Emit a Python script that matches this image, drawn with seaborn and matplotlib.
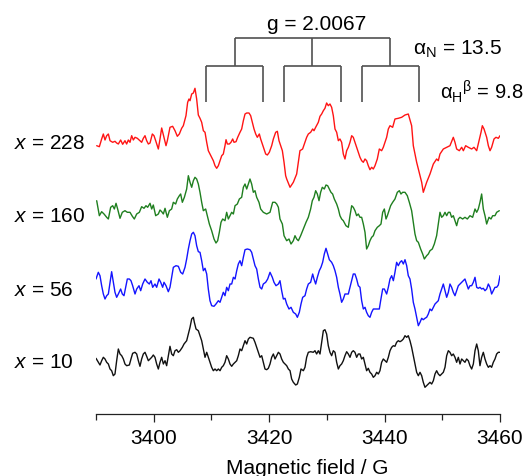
import matplotlib
matplotlib.use("Agg")
import matplotlib.pyplot as plt
from matplotlib.ticker import FixedLocator
import pandas as pd
import seaborn as sns

# First-derivative EPR spectra (arbitrary intensity units) for four samples
field_228 = [3390.12, 3390.58, 3390.98, 3391.27, 3391.56, 3391.85, 3392.14, 3392.43, 3392.89, 3393.29,
             3393.58, 3393.87, 3394.27, 3394.62, 3395.02, 3395.31, 3395.60, 3395.89, 3396.18, 3396.47,
             3396.76, 3397.16, 3397.62, 3397.91, 3398.20, 3398.49, 3398.78, 3399.07, 3399.36, 3399.76,
             3400.05, 3400.34, 3400.80, 3401.09, 3401.38, 3401.67, 3402.13, 3402.36, 3402.82, 3403.28,
             3403.69, 3404.09, 3404.44, 3404.84, 3405.13, 3405.59, 3405.88, 3406.11, 3406.29, 3406.58,
             3406.87, 3407.15, 3407.44, 3407.73, 3408.02, 3408.31, 3408.60, 3408.89, 3409.18, 3409.46,
             3409.75, 3410.04, 3410.33, 3410.62, 3410.91, 3411.20, 3411.49, 3411.78, 3412.06, 3412.35,
             3412.53, 3412.76, 3413.10, 3413.39, 3413.68, 3413.91, 3414.26, 3414.55, 3414.95, 3415.24,
             3415.53, 3415.82, 3416.11, 3416.51, 3416.80, 3417.09, 3417.38, 3417.67, 3417.95, 3418.30,
             3418.53, 3418.82, 3419.11, 3419.40, 3419.69, 3420.03, 3420.44, 3420.73, 3421.13, 3421.42,
             3421.71, 3422.00, 3422.29, 3422.58, 3422.86, 3423.04, 3423.62, 3424.19, 3424.77, 3425.05,
             3425.34, 3425.80, 3426.21, 3426.50, 3426.79, 3427.19, 3427.54, 3427.77, 3428.06, 3428.52,
             3428.81, 3429.10, 3429.39, 3429.67, 3429.96, 3430.25, 3430.54, 3430.83, 3431.12, 3431.41,
             3431.70, 3431.99, 3432.27, 3432.56, 3432.85, 3433.14, 3433.43, 3433.72, 3434.01, 3434.30,
             3434.58, 3434.87, 3435.16, 3435.45, 3435.74, 3436.03, 3436.32, 3436.61, 3436.89, 3437.18,
             3437.47, 3437.76, 3438.05, 3438.34, 3438.74, 3439.09, 3439.49, 3439.78, 3440.36, 3440.65,
             3440.94, 3441.40, 3441.80, 3442.38, 3442.96, 3443.54, 3444.11, 3444.69, 3444.98, 3445.56,
             3445.85, 3446.43, 3446.71, 3447.29, 3447.87, 3448.45, 3449.02, 3449.31, 3449.60, 3450.18,
             3450.76, 3451.33, 3451.91, 3452.20, 3452.49, 3452.95, 3453.36, 3453.65, 3454.05, 3454.51,
             3455.09, 3455.49, 3455.96, 3456.36, 3456.71, 3456.94, 3457.23, 3457.69, 3457.98, 3458.27,
             3458.55, 3458.96, 3459.30, 3459.71, 3460.00]
signal_228 = [0.3, -0.7, 7, 12, 6, 10.3, 12, 5.3, 3.7, 4.7,
              3, 2, 6, 1.7, 5.3, 2, 6, 3.7, 10.3, 6,
              8.7, 7.7, 5.3, 3.7, 7.7, 10.3, 5.3, 2, 3, 12,
              10.3, 5.3, -3, 7, 18, 11, 0.3, 5.3, 18.7, 19.7,
              15.3, 9.7, 12, 17.7, 20.3, 30.3, 43.7, 47, 45.3, 52,
              53, 57.7, 47, 31, 27.7, 23.7, 15.3, 13.7, 3.7, -4.7,
              -8, -11.3, -14.7, -19.7, -22.3, -19.7, -14.7, -9.7, -8, 0.3,
              6.3, 2, 2, 3.7, 7, 3.7, 4.3, 8.7, 13.7, 17,
              25.3, 32, 33, 33, 30.3, 23.7, 17, 12, 8.7, 12,
              7, 2, -3, -8, -9, -6.3, 0.3, 7, 13.7, 14.7,
              5.3, 0.3, -4.7, -16.3, -29.7, -33, -41.3, -36.3, -28, -16.3,
              -4.7, -3, 3.7, 8.7, 12, 13.7, 17, 15.3, 18.7, 23.7,
              29.7, 32, 35.3, 37.7, 43, 40.3, 42, 38.7, 30.3, 17,
              13.7, 5.3, 7, 3.7, -8, -13, -4.7, -1.3, 3.7, 10.3,
              8.7, 3.7, -1.3, -6.3, -11.3, -14.7, -16.3, -13, -14.7, -19.7,
              -23.7, -21.3, -23, -19.7, -13, -3, -4.7, -1.3, 8.7, 17,
              20.3, 18.7, 27, 27.7, 28.7, 31, 32, 20.3, 0.3, -16.3,
              -23, -36.3, -46.3, -36.3, -28, -18, -13, -14.7, -8, -3,
              -1.3, 0.3, 8.7, 3.7, -3, -4.7, -1.3, -4.7, 0.3, -1.3,
              -3, -1.3, -4.7, 5.3, 13.7, 20.3, 17, 8.7, 0.3, -4.7,
              -1.3, 7, 8.7, 7.7, 10.3]

field_160 = [3390.12, 3390.58, 3390.98, 3391.39, 3391.85, 3392.14, 3392.54, 3392.89, 3393.18, 3393.47,
             3393.75, 3394.16, 3394.56, 3395.02, 3395.43, 3395.89, 3396.30, 3396.64, 3397.05, 3397.51,
             3397.91, 3398.32, 3398.66, 3398.95, 3399.36, 3399.65, 3399.93, 3400.34, 3400.80, 3401.09,
             3401.38, 3401.67, 3401.96, 3402.36, 3402.71, 3403.11, 3403.40, 3403.80, 3404.09, 3404.44,
             3404.67, 3404.96, 3405.31, 3405.71, 3406.00, 3406.29, 3406.58, 3406.87, 3407.15, 3407.44,
             3407.73, 3408.02, 3408.31, 3408.60, 3409.00, 3409.29, 3409.64, 3410.04, 3410.45, 3410.79,
             3411.08, 3411.37, 3411.66, 3411.95, 3412.35, 3412.64, 3412.93, 3413.22, 3413.51, 3413.80,
             3414.09, 3414.49, 3414.84, 3415.24, 3415.53, 3415.82, 3416.11, 3416.40, 3416.68, 3416.97,
             3417.26, 3417.55, 3417.84, 3418.24, 3418.53, 3418.99, 3419.57, 3420.15, 3420.61, 3421.02,
             3421.31, 3421.60, 3421.88, 3422.29, 3422.58, 3423.04, 3423.44, 3423.79, 3424.19, 3424.48,
             3424.77, 3425.06, 3425.46, 3425.93, 3426.39, 3426.79, 3427.19, 3427.48, 3427.77, 3428.06,
             3428.35, 3428.64, 3428.92, 3429.21, 3429.56, 3429.85, 3430.14, 3430.43, 3430.71, 3431.00,
             3431.29, 3431.70, 3431.99, 3432.27, 3432.56, 3432.85, 3433.31, 3433.72, 3434.01, 3434.30,
             3434.58, 3434.87, 3435.16, 3435.45, 3435.74, 3436.03, 3436.32, 3436.61, 3436.89, 3437.18,
             3437.47, 3437.76, 3438.05, 3438.34, 3438.74, 3439.09, 3439.38, 3439.67, 3439.96, 3440.25,
             3440.48, 3440.77, 3441.05, 3441.40, 3441.80, 3442.21, 3442.56, 3442.84, 3443.13, 3443.54,
             3443.94, 3444.29, 3444.69, 3444.98, 3445.27, 3445.56, 3445.85, 3446.25, 3446.60, 3446.89,
             3447.29, 3447.58, 3447.87, 3448.27, 3448.62, 3449.02, 3449.31, 3449.60, 3449.89, 3450.18,
             3450.47, 3450.76, 3451.05, 3451.33, 3451.62, 3451.91, 3452.20, 3452.49, 3452.78, 3453.07,
             3453.53, 3453.93, 3454.34, 3454.80, 3455.26, 3455.67, 3455.96, 3456.24, 3456.53, 3456.82,
             3457.11, 3457.40, 3457.69, 3458.09, 3458.44, 3458.73, 3459.13, 3459.42, 3459.88]
signal_160 = [10.3, -4.7, -0.7, -3, -6.3, -8, 3.7, 5.3, 2, 7.7,
              2, -7.3, -1.3, 0.3, -1.3, -1.3, -5.3, -8, -3, -1.3,
              4.3, 2.7, 5.3, 3.7, 7.7, 2, 6, -4.7, -3, 1,
              -0.7, -3, 2.7, -6.3, 0.3, 2, 8.7, 7, 12, 15.3,
              17, 8.7, 13.7, 22, 35.3, 28.7, 23.7, 30.3, 33.7, 32,
              27, 18.7, 8.7, 0.3, 2, -4.7, -13, -19.7, -28, -32,
              -29.7, -21.3, -11.3, -8, -9.7, -1.3, -8, -4.7, -1.3, -3,
              5.3, 7, 12, 13.7, 23.7, 27, 22, 27, 32, 27,
              18.7, 20.3, 13.7, 8.7, 2, -1.3, -3, -1.3, 8.7, 8.7,
              7, 3.7, -8, -13, -24.7, -29.7, -28, -33, -29.7, -24.7,
              -28, -29.7, -24.7, -18, -11.3, -6.3, 2, 10.3, 13.7, 20.3,
              17, 10.3, 18.7, 23.7, 22, 26, 25.3, 22, 18.7, 17,
              12, 7, 2, -4.7, -8, -9.7, -14.7, -16.3, -4.7, 5.3,
              3.7, 0.3, -4.7, -3, -6.3, -6.3, -13, -21.3, -38, -34.7,
              -29.7, -26.3, -24.7, -19.7, -16.3, -14.7, -13, -1.3, 2, -8,
              -4.7, 0.3, 5.3, 8.7, 12, 18.7, 20.3, 17, 18.7, 18.7,
              15.3, 8.7, 0.3, -11.3, -23, -29.7, -31.3, -38, -43, -48,
              -44.7, -43, -39.7, -38, -33, -24.7, -13, -1.3, -6.3, -4.7,
              -1.3, -4.7, -1.3, -1.3, -6.3, -4.7, -9.7, -14.7, -8, -6.3,
              -8, -6.3, -8, -4.7, -6.3, 2, -1.3, 2, 8.7, 17,
              2, -4.7, -13, -6.3, -8, -4.7, -4.7, -1.3, 0.3]

field_56 = [3390.00, 3390.40, 3390.69, 3390.98, 3391.27, 3391.56, 3391.85, 3392.14, 3392.43, 3392.71,
            3393.00, 3393.29, 3393.58, 3393.87, 3394.27, 3394.56, 3394.85, 3395.20, 3395.43, 3395.78,
            3396.06, 3396.35, 3396.76, 3397.05, 3397.45, 3397.74, 3398.09, 3398.49, 3398.89, 3399.24,
            3399.53, 3399.82, 3400.22, 3400.51, 3400.92, 3401.21, 3401.55, 3401.78, 3402.13, 3402.53,
            3402.82, 3403.11, 3403.40, 3403.86, 3404.27, 3404.67, 3405.02, 3405.42, 3405.71, 3406.00,
            3406.29, 3406.58, 3406.87, 3407.15, 3407.44, 3407.73, 3408.02, 3408.31, 3408.60, 3408.89,
            3409.18, 3409.46, 3409.75, 3410.04, 3410.45, 3410.79, 3411.20, 3411.49, 3411.78, 3412.06,
            3412.35, 3412.64, 3412.93, 3413.22, 3413.51, 3413.80, 3414.09, 3414.38, 3414.66, 3414.95,
            3415.24, 3415.53, 3415.82, 3416.22, 3416.68, 3416.97, 3417.26, 3417.55, 3417.84, 3418.13,
            3418.42, 3418.71, 3418.99, 3419.40, 3419.75, 3420.15, 3420.55, 3420.84, 3421.19, 3421.60,
            3421.88, 3422.17, 3422.46, 3422.75, 3423.04, 3423.44, 3423.79, 3424.19, 3424.60, 3424.89,
            3425.23, 3425.52, 3425.81, 3426.21, 3426.50, 3426.79, 3427.19, 3427.54, 3427.77, 3428.06,
            3428.35, 3428.69, 3428.98, 3429.27, 3429.56, 3429.85, 3430.14, 3430.43, 3430.83, 3431.12,
            3431.41, 3431.70, 3431.99, 3432.27, 3432.56, 3432.85, 3433.14, 3433.43, 3433.72, 3434.01,
            3434.30, 3434.58, 3434.87, 3435.16, 3435.45, 3435.74, 3436.03, 3436.32, 3436.61, 3436.89,
            3437.18, 3437.47, 3437.76, 3438.05, 3438.34, 3438.74, 3439.09, 3439.32, 3439.67, 3439.96,
            3440.36, 3440.65, 3440.94, 3441.23, 3441.52, 3441.80, 3442.09, 3442.38, 3442.67, 3442.96,
            3443.25, 3443.54, 3443.83, 3444.11, 3444.40, 3444.69, 3444.98, 3445.27, 3445.56, 3445.85,
            3446.14, 3446.43, 3446.71, 3447.00, 3447.29, 3447.58, 3447.87, 3448.16, 3448.45, 3448.74,
            3449.02, 3449.31, 3449.60, 3449.89, 3450.18, 3450.47, 3450.76, 3451.05, 3451.33, 3451.62,
            3451.91, 3452.20, 3452.49, 3452.78, 3453.07, 3453.36, 3453.65, 3453.93, 3454.22, 3454.51,
            3454.80, 3455.09, 3455.38, 3455.67, 3455.96, 3456.24, 3456.53, 3456.82, 3457.11, 3457.40,
            3457.69, 3457.98, 3458.27, 3458.55, 3458.84, 3459.13, 3459.42, 3459.71, 3460.00]
signal_56 = [5, 11.7, 8.3, -1.7, -10, -15, -11.7, -10, 1.7, 12.3,
             1.7, -8.3, -13.3, -10, -5, -10, -11.7, -1.7, 5, 5,
             3.3, -1.7, -10, -5, -1.7, -6.7, 0, 5, 1.7, 0,
             3.3, -3.3, 0, -3.3, 5, 1.7, -3.3, 1.7, -1.7, -7.7,
             -3.3, 6.7, 16.7, 18.3, 17.7, 11.7, 10, 16.7, 25, 35,
             43.3, 50, 51.7, 48.3, 38.3, 32.3, 31.7, 23.3, 13.3, 15.7,
             10, -5, -16.7, -21.7, -22.3, -20, -16.7, -18.3, -13.3, -8.3,
             -11.7, -3.3, -6.7, 0, 0, 6.7, 5, 13.3, 20, 23.3,
             18.3, 26.7, 34.3, 35, 34.3, 31.7, 25, 18.3, 15, 5,
             -3.3, -5, 0, 1.7, 5, 11.7, 6.7, 1.7, -1.7, 0,
             3.3, -6.7, -15, -14.3, -20, -25, -23.3, -28.3, -30, -33.3,
             -28.3, -20, -13.3, -11.7, -5, 0, 1.7, 10, 5, 0,
             6.7, 13.3, 16.7, 21.7, 30, 35.7, 30, 24.3, 21.7, 18.3,
             13.3, 6.7, -3.3, -10, -18.3, -15, -10, -10, -10, -3.3,
             3.3, 10, 10, 5, -1.7, -3.3, -16.7, -25, -23.3, -28.3,
             -31.7, -33.3, -28.3, -25, -25, -25, -25, -16.7, -5, -5,
             -10, -3.3, 5, 8.3, 3.3, 11.7, 21.7, 18.3, 21.7, 23.3,
             20, 24.3, 18.3, 8.3, 5, -5, -18.3, -25, -33.3, -41.7,
             -38.3, -34.3, -35.7, -34.3, -33.3, -30, -25, -26.7, -23.3, -20,
             -18.3, -16.7, -10, -5, 0, -6.7, -13.3, -8.3, 0, -3.3,
             -8.3, -11.7, -6.7, -1.7, 0, 1.7, 3.3, 5, 0, -5,
             -1.7, -1.7, 1.7, 6.7, -3.3, -4.3, -3.3, -5, -4.3, -6.7,
             -5, 0, -3.3, -10, -6.7, -3.3, -3.3, -1, 8.3]

field_10 = [3390.00, 3390.40, 3390.69, 3390.98, 3391.27, 3391.56, 3391.85, 3392.14, 3392.43, 3392.71,
            3393.00, 3393.29, 3393.58, 3393.87, 3394.16, 3394.45, 3394.74, 3395.02, 3395.31, 3395.78,
            3396.06, 3396.35, 3396.76, 3397.05, 3397.34, 3397.62, 3397.91, 3398.20, 3398.49, 3398.78,
            3399.07, 3399.36, 3399.65, 3399.93, 3400.22, 3400.51, 3400.80, 3401.09, 3401.38, 3401.67,
            3401.96, 3402.24, 3402.53, 3402.82, 3403.11, 3403.40, 3403.69, 3403.98, 3404.27, 3404.56,
            3404.96, 3405.25, 3405.71, 3406.00, 3406.29, 3406.58, 3406.87, 3407.04, 3407.33, 3407.73,
            3408.02, 3408.31, 3408.60, 3408.89, 3409.18, 3409.46, 3409.75, 3410.04, 3410.33, 3410.62,
            3410.91, 3411.20, 3411.49, 3411.78, 3412.06, 3412.35, 3412.64, 3412.93, 3413.22, 3413.51,
            3413.80, 3414.09, 3414.38, 3414.66, 3414.95, 3415.24, 3415.53, 3415.82, 3416.11, 3416.40,
            3416.68, 3417.26, 3417.55, 3417.84, 3418.13, 3418.42, 3418.71, 3418.99, 3419.28, 3419.57,
            3419.86, 3420.15, 3420.44, 3420.73, 3421.02, 3421.31, 3421.60, 3421.88, 3422.17, 3422.46,
            3422.75, 3423.04, 3423.33, 3423.62, 3423.90, 3424.19, 3424.60, 3424.89, 3425.23, 3425.52,
            3425.93, 3426.21, 3426.50, 3426.79, 3427.19, 3427.65, 3427.94, 3428.23, 3428.52, 3428.81,
            3429.10, 3429.39, 3429.67, 3429.96, 3430.25, 3430.54, 3430.83, 3431.12, 3431.41, 3431.70,
            3431.99, 3432.27, 3432.56, 3432.85, 3433.14, 3433.43, 3433.72, 3434.01, 3434.30, 3434.58,
            3434.87, 3435.16, 3435.45, 3435.74, 3436.03, 3436.32, 3436.61, 3436.89, 3437.18, 3437.47,
            3437.76, 3438.05, 3438.34, 3438.63, 3438.92, 3439.20, 3439.49, 3439.78, 3440.07, 3440.36,
            3440.65, 3440.94, 3441.23, 3441.52, 3441.80, 3442.09, 3442.38, 3442.67, 3442.96, 3443.25,
            3443.54, 3443.83, 3444.11, 3444.40, 3444.69, 3444.98, 3445.27, 3445.56, 3445.85, 3446.14,
            3446.43, 3446.71, 3447.00, 3447.29, 3447.58, 3447.87, 3448.16, 3448.45, 3448.74, 3449.02,
            3449.31, 3449.60, 3449.89, 3450.18, 3450.47, 3450.76, 3451.05, 3451.33, 3451.62, 3451.91,
            3452.20, 3452.49, 3452.78, 3453.07, 3453.36, 3453.65, 3453.93, 3454.22, 3454.51, 3454.80,
            3455.09, 3455.38, 3455.67, 3455.96, 3456.24, 3456.53, 3456.82, 3457.11, 3457.40, 3457.69,
            3457.98, 3458.27, 3458.55, 3458.84, 3459.13, 3459.42, 3459.71, 3460.00]
signal_10 = [0.7, -3.3, -6, -1.7, 1.7, 0, -3.3, -5, -10, -11.7,
             -16.7, -15, -1.7, 10, 5, 3.3, 0, -5, -6.7, -6,
             0, 5.7, 6.7, 5, -1.7, -7.3, 0, 5, 6.7, 2.7,
             -1.7, 0, 1.7, 4, 1.7, -5, -10, -3.3, 1.7, -5,
             -1.7, -6.7, 3.3, 12.7, 5, 3.3, 8.3, 9.3, 6.7, 8.3,
             11.7, 15, 18.3, 25, 31.7, 40, 41.7, 36.7, 30, 28.3,
             23.3, 18.3, 10, 1.7, 6.7, 1.7, -3.3, -8.3, -11.7, -10,
             -11.7, -10, -11.7, -8.3, -6.7, -3.3, 3.3, 0, -5, -7.3,
             -5, -3.3, -1.7, 3.3, 10, 8.3, 13.3, 18.3, 15, 20,
             21.7, 20.7, 16.7, 11.7, 6.7, 1.7, 3.3, -3.3, -10, -10.7,
             -9.3, -5, 1.7, 5, 0, 3.3, 6.7, 5, 0, -3.3,
             -5, -6.7, -10, -11.7, -20, -23.3, -26, -25, -18.3, -10,
             -11.7, -8.3, 1.7, 6.7, 7.3, 6.7, 8.3, 5, 8.3, 5,
             16.7, 28.3, 29.3, 25, 13.3, 6.7, 3.3, 8.3, 6.7, -3.3,
             -10, -6.7, -5, -1.7, 3.3, 7.3, 5, 1.7, 6.7, 8.3,
             6.7, 1.7, 5, 5, 0, 1.7, -5, -11.7, -9.3, -13.3,
             -15, -18.3, -16.7, -13.3, -15, -11.7, -3.3, 0, -1.7, -3.3,
             1.7, 8.3, 11.7, 13.3, 12.7, 16.7, 18.3, 17.3, 18.3, 20,
             23.3, 21.7, 23.3, 18.3, 11.7, 3.3, -5, -13.3, -16.7, -13.3,
             -16.7, -23.3, -28.3, -26.7, -25, -23.3, -25, -21.7, -15, -11.7,
             -15, -16.7, -15, -13.3, -8.3, 3.3, 8.3, 6.7, 3.3, 5,
             1.7, -3.3, 1.7, -5, 0, -1.7, -3.3, 0, -1.7, -6.7,
             -10, -5, 8.3, 15, 8.3, -6.7, 1.7, 6.7, 0, -5,
             -8.3, -6.7, -8.3, -3.3, 0, 5, 6.7, 6.7]

sample_labels = ["228", "160", "56", "10"]
fields = [field_228, field_160, field_56, field_10]
signals = [signal_228, signal_160, signal_56, signal_10]

# Hyperfine pattern: g-centre field, nitrogen and beta-hydrogen couplings (G)
g_value = "2.0067"
g_center = 3427.5
a_N = 13.5
a_H = 9.8

# Styling / layout
colors = ["#ff1414", "#1f7f1f", "#1414ff", "#111111"]
offsets = [268, 203, 130, 55]
label_y = [266.5, 192.5, 119.5, 46.5]

sns.set_style("white")
plt.rcParams["font.family"] = ["Liberation Sans", "DejaVu Sans"]
plt.rcParams["mathtext.fontset"] = "custom"
plt.rcParams["mathtext.rm"] = "Liberation Sans"
plt.rcParams["mathtext.it"] = "Liberation Sans:italic"
plt.rcParams["text.color"] = "black"
plt.rcParams["axes.labelcolor"] = "black"
plt.rcParams["xtick.color"] = "black"

frames = []
for lab, f, s, off in zip(sample_labels, fields, signals, offsets):
    frames.append(pd.DataFrame({"field": f,
                                "signal": [v + off for v in s],
                                "sample": lab}))
df = pd.concat(frames, ignore_index=True)

fig = plt.figure(figsize=(5.29, 4.77), dpi=100)
ax = fig.add_axes([96 / 529, 62 / 477, 404 / 529, 410 / 477])

sns.lineplot(data=df, x="field", y="signal", hue="sample",
             hue_order=sample_labels, palette=colors, estimator=None,
             sort=False, legend=False, linewidth=1.0, ax=ax)

ax.set_xlim(3390, 3460)
ax.set_ylim(0, 410)

# Stick diagram: 1:1:1 nitrogen triplet, each split into a hydrogen doublet
stick_color = "#505050"
y_top, y_mid, y_bot = 376, 348, 312
n_pos = [g_center - a_N, g_center, g_center + a_N]
ax.hlines(y_top, n_pos[0], n_pos[-1], color=stick_color, lw=1.2)
ax.vlines(n_pos, y_mid, y_top, color=stick_color, lw=1.2)
for c in n_pos:
    ax.hlines(y_mid, c - a_H / 2, c + a_H / 2, color=stick_color, lw=1.2)
    ax.vlines([c - a_H / 2, c + a_H / 2], y_bot, y_mid, color=stick_color, lw=1.2)

ax.text(3428.2, 385, f"g = {g_value}", ha="center", va="baseline", fontsize=15,
        color="black")
ax.text(3444.9, 360, r"α$_\mathregular{N}$ = " + f"{a_N}", ha="left", va="baseline",
        fontsize=15, color="black", clip_on=False)
ax.text(3449.6, 315.5, r"α$_\mathregular{H}{}^\mathregular{β}$ = " + f"{a_H}", ha="left",
        va="baseline", fontsize=14.5, color="black", clip_on=False)

for lab, ly in zip(sample_labels, label_y):
    ax.text(3375.8, ly, r"$x$ = " + lab, ha="left", va="baseline", fontsize=15,
            color="black", clip_on=False)

# Axis styling: only the bottom spine with major/minor ticks
for side in ["left", "right", "top"]:
    ax.spines[side].set_visible(False)
ax.spines["bottom"].set_color("#222222")
ax.spines["bottom"].set_linewidth(0.9)
ax.set_yticks([])
ax.set_ylabel("")
ax.xaxis.set_major_locator(FixedLocator([3400, 3420, 3440, 3460]))
ax.xaxis.set_minor_locator(FixedLocator([3390, 3410, 3430, 3450]))
ax.tick_params(axis="x", which="major", length=6, width=0.9, color="#222222",
               labelcolor="black", direction="out", labelsize=15, pad=4, bottom=True)
ax.tick_params(axis="x", which="minor", length=4, width=0.9, color="#222222",
               direction="out", bottom=True)
ax.set_xlabel("Magnetic field / G", fontsize=15, color="black")
ax.xaxis.set_label_coords((307.5 - 96) / 404, -0.108)

fig.savefig("out.png", dpi=100)
